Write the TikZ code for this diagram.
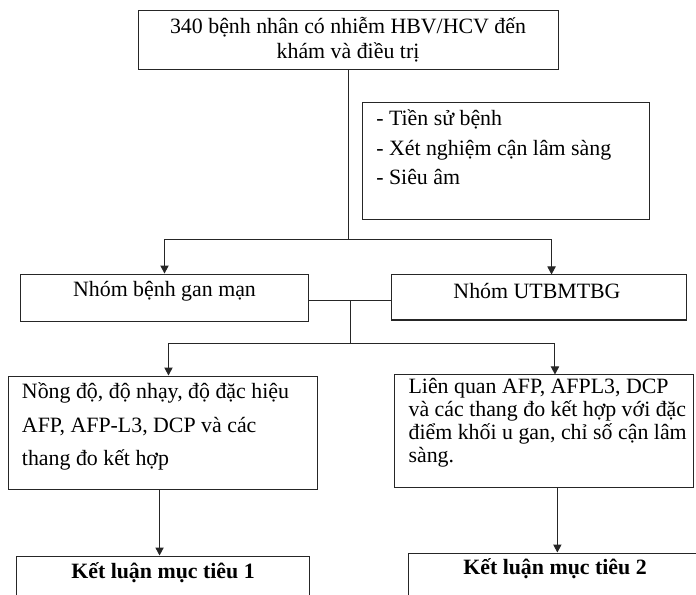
\documentclass[tikz,border=0pt]{standalone}
\usepackage{fontspec}
\setmainfont{Liberation Serif}
\usetikzlibrary{arrows.meta}

\tikzset{
  box/.style={draw=black!85, line width=0.75pt, rectangle, inner sep=0pt},
  txt/.style={inner sep=0pt, font=\fontsize{16.4pt}{18.75pt}\selectfont},
  link/.style={draw=black!85, line width=0.75pt},
  arr/.style={link, -{Triangle[length=6pt,width=6.2pt]}}
}

\begin{document}
\begin{tikzpicture}[x=0.75pt,y=0.75pt,yscale=-1,xscale=1]
  \clip (0,0) rectangle (696,595);

  %Shape: Rectangle [top]
  \node [box, minimum width=315pt, minimum height=44.25pt] (top) at (348,40.5) {};
  %Shape: Rectangle [side]
  \node [box, minimum width=215.25pt, minimum height=88.1pt] (hist) at (506,161.25) {};
  %Shape: Rectangle [groups]
  \node [box, minimum width=216pt, minimum height=35.6pt] (gan) at (164.5,297.75) {};
  \node [box, minimum width=221.25pt, minimum height=33.75pt] (ut) at (539,297.5) {};
  %Shape: Rectangle [aims]
  \node [box, minimum width=231.4pt, minimum height=84.75pt] (muc1) at (162.75,432.5) {};
  \node [box, minimum width=224.25pt, minimum height=84.4pt] (muc2) at (543.5,431.25) {};
  %Shape: Rectangle [conclusions]
  \node [box, minimum width=220.1pt, minimum height=66pt] (kl1) at (163.25,600) {};
  \node [box, minimum width=234pt, minimum height=70.5pt] (kl2) at (564,600) {};

  % Text Node
  \node [txt, align=center] (ttop) at (348,39.5) {340 bệnh nhân có nhiễm HBV/HCV đến\\khám và điều trị};
  % Text Node
  \node [txt, anchor=west, align=left, font=\fontsize{16.4pt}{22.1pt}\selectfont] (thist) at (376,147.5) {- Tiền sử bệnh\\- Xét nghiệm cận lâm sàng\\- Siêu âm};
  % Text Node
  \node [txt] (tgan) at (164.5,291) {Nhóm bệnh gan mạn};
  % Text Node
  \node [txt] (tut) at (537,291) {Nhóm UTBMTBG};
  % Text Node
  \node [txt, anchor=west, align=left, font=\fontsize{16.4pt}{25.1pt}\selectfont] (tmuc1) at (21.7,426.5) {Nồng độ, độ nhạy, độ đặc hiệu\\AFP, AFP-L3, DCP và các\\thang đo kết hợp};
  % Text Node
  \node [txt, anchor=west, align=left, font=\fontsize{16.4pt}{17.25pt}\selectfont] (tmuc2) at (408.3,422.5) {Liên quan AFP, AFPL3, DCP\\và các thang đo kết hợp với đặc\\điểm khối u gan, chỉ số cận lâm\\sàng.};
  % Text Node
  \node [txt, font=\fontsize{16.4pt}{18.75pt}\selectfont\bfseries] (tkl1) at (163,573) {Kết luận mục tiêu 1};
  % Text Node
  \node [txt, font=\fontsize{16.4pt}{18.75pt}\selectfont\bfseries] (tkl2) at (555,569) {Kết luận mục tiêu 2};

  %Straight Lines [split 1]
  \coordinate (s1) at (348,239.5);
  \draw [link] (top.south) -- (s1);
  \draw [arr] (s1) -| (gan.north);
  \draw [arr] (s1) -| ([xshift=9.4pt]ut.north);

  %Straight Lines [split 2]
  \coordinate (m) at (350.5,300.3);
  \coordinate (s2) at (350.5,343);
  \draw [link] (gan.east |- m) -- (m -| ut.west);
  \draw [link] (m) -- (s2);
  \draw [arr] (s2) -| ([xshift=4.3pt]muc1.north);
  \draw [arr] (s2) -| ([xshift=8.6pt]muc2.north);

  %Straight Lines [to conclusions]
  \draw [arr] ([xshift=-2.4pt]muc1.south) -- ([xshift=-2.4pt]muc1.south |- kl1.north);
  \draw [arr] ([xshift=10.4pt]muc2.south) -- ([xshift=10.4pt]muc2.south |- kl2.north);

\end{tikzpicture}
\end{document}
